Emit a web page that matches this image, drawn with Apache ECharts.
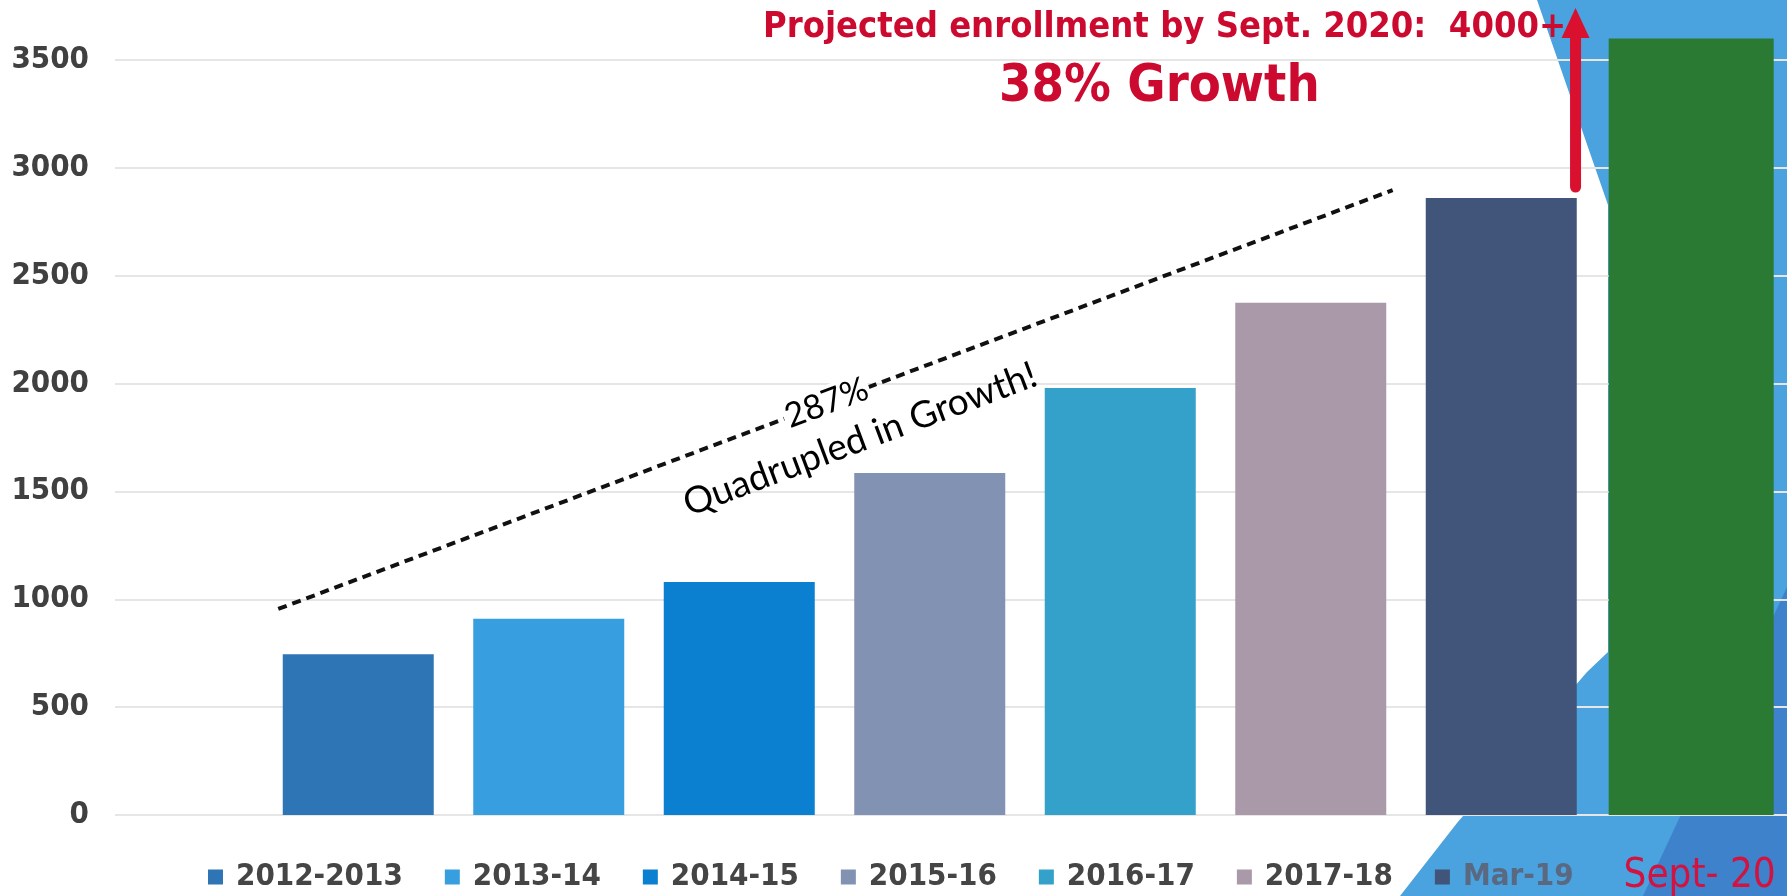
<!DOCTYPE html>
<html><head><meta charset="utf-8">
<script src="https://cdn.jsdelivr.net/npm/echarts@6/dist/echarts.min.js"></script>
<style>html,body{margin:0;padding:0;background:#fff}#c{width:1787px;height:896px}</style>
</head><body><div id="c"></div>
<script>
// ---- data ----
const categories = ['2012-2013', '2013-14', '2014-15', '2015-16', '2016-17', '2017-18', 'Mar-19', 'Sept- 20'];
const enrollment = [745, 910, 1080, 1585, 1980, 2375, 2860, 3600];
const barColors = ['#2e75b6', '#379fdf', '#0b7fd0', '#8192b2', '#33a1c9', '#a999a9', '#405579', '#2b7a33'];
const yMin = 0, yMax = 3500, yStep = 500;
const titleText = 'Projected enrollment by Sept. 2020:  4000+';
const growthText = '38% Growth';
const trendStart = [-0.42, 955];
const trendEnd = [5.43, 2897];
const trendPct = '287%';
const trendNote = 'Quadrupled in Growth!';
const arrowFrom = [6.39, 2911];
const arrowTo = [6.39, 3741];

const axisFont = '"DejaVu Sans Condensed", "DejaVu Sans", sans-serif';
const red = '#cc0a2f';

const chart = echarts.init(document.getElementById('c'), null, {renderer: 'canvas'});

const series = categories.map((name, i) => {
  const proj = i === categories.length - 1;
  return {
    name, type: 'bar',
    data: categories.map((_, j) => j === i ? enrollment[i] : '-'),
    xAxisIndex: proj ? 3 : 1, yAxisIndex: proj ? 2 : 1,
    stack: proj ? undefined : 'hist',
    barWidth: proj ? 165 : 151,
    clip: false,
    itemStyle: {color: barColors[i]},
    emphasis: {disabled: true},
    z: 3
  };
});
series.push({
  type: 'line', xAxisIndex: 2, yAxisIndex: 1, data: [trendStart, trendEnd],
  symbol: 'none', silent: true, z: 5,
  lineStyle: {color: '#111', width: 4, type: [9, 6]}
});

const legendData = categories.map((name, i) => {
  if (i === categories.length - 1) return {name, icon: 'none', textStyle: {color: '#d3123f', fontWeight: 'normal', fontSize: 40, padding: [0, 0, 0, -12]}};
  if (i === categories.length - 2) return {name, textStyle: {color: '#5a6880'}};
  return {name};
});

const ySplit = {show: true, lineStyle: {color: '#e6e6e6', width: 2}};
const hiddenCat = {type: 'category', data: categories, show: false, boundaryGap: true};

const bg = [
  {type: 'polygon', z: -10, silent: true,
   shape: {points: [[1537, 0], [1787, 0], [1787, 896], [1400, 896], [1457, 823], [1587, 672], [1608, 652], [1608, 205]]},
   style: {fill: '#4aa2df'}},
  {type: 'polygon', z: -9, silent: true,
   shape: {points: [[1643, 896], [1787, 587], [1787, 896]]},
   style: {fill: '#3d82ca'}}
];

const option = {
  animation: false,
  backgroundColor: '#fff',
  title: [
    {text: titleText, left: 763, top: 10, padding: 0,
     textStyle: {color: red, fontSize: 36, fontWeight: 'bold', fontFamily: axisFont}},
    {text: growthText, left: 999, top: 61, padding: 0,
     textStyle: {color: red, fontSize: 52, fontWeight: 'bold', fontFamily: axisFont}}
  ],
  legend: {
    left: 208, top: 857, padding: 0, itemWidth: 15, itemHeight: 15, itemGap: 42,
    icon: 'rect', selectedMode: false,
    textStyle: {fontFamily: axisFont, fontWeight: 'bold', fontSize: 31, color: '#454545', lineHeight: 36, padding: [0, 0, 0, 8]},
    data: legendData
  },
  grid: [
    {left: 115, right: 0, top: 60, height: 755},
    {left: 263, width: 1533.6, top: 60, height: 755},
    {left: 254, width: 1533.6, top: 60, height: 755}
  ],
  xAxis: [
    {type: 'value', gridIndex: 0, min: 0, max: 1, show: false},
    Object.assign({gridIndex: 1}, hiddenCat),
    {type: 'value', gridIndex: 1, min: -0.5, max: 7.5, show: false},
    Object.assign({gridIndex: 2}, hiddenCat)
  ],
  yAxis: [
    {type: 'value', gridIndex: 0, min: yMin, max: yMax, interval: yStep,
     axisLine: {show: false}, axisTick: {show: false}, splitLine: ySplit,
     axisLabel: {margin: 26, fontSize: 31, fontWeight: 'bold', color: '#404040', fontFamily: axisFont,
                 formatter: v => String(v)}},
    {type: 'value', gridIndex: 1, min: yMin, max: yMax, interval: yStep, show: false, splitLine: {show: false}},
    {type: 'value', gridIndex: 2, min: yMin, max: yMax, interval: yStep, show: false, splitLine: {show: false}}
  ],
  graphic: bg,
  series
};
chart.setOption(option);

// annotations positioned from data coordinates
const toPx = p => chart.convertToPixel({xAxisIndex: 2, yAxisIndex: 1}, p);
const pS = toPx(trendStart), pE = toPx(trendEnd);
const ang = Math.atan2(pS[1] - pE[1], pE[0] - pS[0]);
const lerp = t => [pS[0] + (pE[0] - pS[0]) * t, pS[1] + (pE[1] - pS[1]) * t];
const m1 = lerp(0.492);
const m2b = lerp(0.5075);
const off = 46;
const m2 = [m2b[0] + off * Math.sin(ang), m2b[1] + off * Math.cos(ang)];
const a0 = toPx(arrowFrom), a1 = toPx(arrowTo);
const headLen = 30, headW = 28;

chart.setOption({
  graphic: bg.concat([
    {type: 'text', z: 20, x: m1[0], y: m1[1], rotation: ang, silent: true,
     style: {text: trendPct, font: '34px Lato, "Open Sans", sans-serif', fill: '#000', align: 'center', verticalAlign: 'middle',
             backgroundColor: '#fff', padding: [0, 2]}},
    {type: 'text', z: 20, x: m2[0], y: m2[1], rotation: ang, silent: true,
     style: {text: trendNote, font: '37px Lato, "Open Sans", sans-serif', fill: '#000', align: 'center', verticalAlign: 'middle'}},
    {type: 'line', z: 20, silent: true,
     shape: {x1: a0[0], y1: a0[1], x2: a1[0], y2: a1[1] + headLen - 2},
     style: {stroke: '#d9102e', lineWidth: 11, lineCap: 'round'}},
    {type: 'polygon', z: 20, silent: true,
     shape: {points: [[a1[0], a1[1]], [a1[0] - headW / 2, a1[1] + headLen], [a1[0] + headW / 2, a1[1] + headLen]]},
     style: {fill: '#d9102e'}}
  ])
});
</script>
</body></html>
